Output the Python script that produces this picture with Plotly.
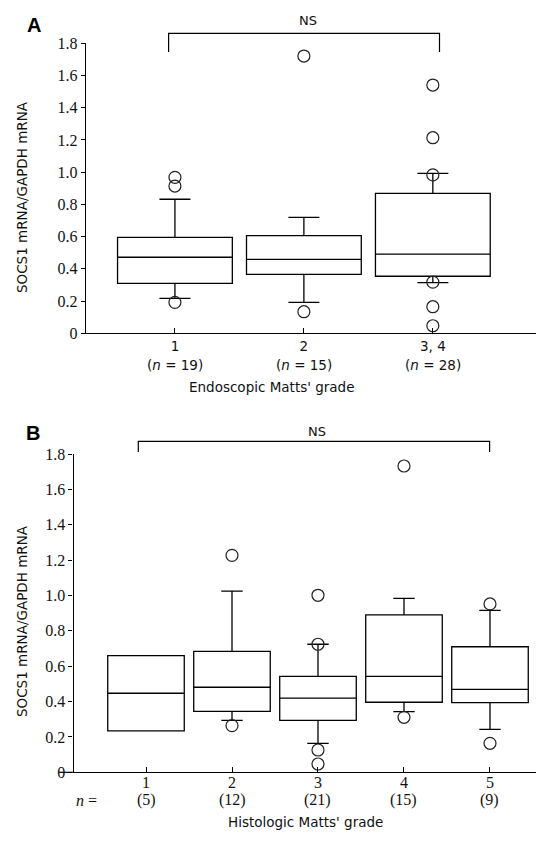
import plotly.graph_objects as go

# ---------------- data ----------------
# Panel A: endoscopic Matts' grade
a_pos = [1, 2, 3]
a_labels = ["1", "2", "3, 4"]
a_n = [19, 15, 28]
a_q1 = [0.31, 0.366, 0.354]
a_median = [0.472, 0.459, 0.492]
a_q3 = [0.596, 0.606, 0.869]
a_low = [0.217, 0.192, 0.314]
a_high = [0.832, 0.72, 0.993]
a_out_x = [1, 1, 1, 2, 2, 3, 3, 3, 3, 3, 3]
a_out_y = [0.192, 0.914, 0.968, 0.134, 1.721, 0.983, 1.214, 1.541, 0.318, 0.165, 0.047]

# Panel B: histologic Matts' grade
b_pos = [1, 2, 3, 4, 5]
b_labels = ["1", "2", "3", "4", "5"]
b_n = [5, 12, 21, 15, 9]
b_q1 = [0.234, 0.345, 0.294, 0.396, 0.394]
b_median = [0.447, 0.481, 0.42, 0.543, 0.469]
b_q3 = [0.66, 0.684, 0.543, 0.89, 0.71]
b_low = [0.234, 0.294, 0.164, 0.343, 0.243]
b_high = [0.66, 1.024, 0.724, 0.984, 0.916]
b_out_x = [2, 2, 3, 3, 3, 3, 4, 4, 5, 5]
b_out_y = [0.264, 1.227, 1.001, 0.724, 0.126, 0.047, 0.311, 1.732, 0.952, 0.164]

y_ticks = [0, 0.2, 0.4, 0.6, 0.8, 1.0, 1.2, 1.4, 1.6, 1.8]
y_ticktext = ["0", "0.2", "0.4", "0.6", "0.8", "1.0", "1.2", "1.4", "1.6", "1.8"]

y_title = "SOCS1 mRNA/GAPDH mRNA"
a_xtitle = "Endoscopic Matts' grade"
b_xtitle = "Histologic Matts' grade"

# ---------------- styling ----------------
W, H = 553, 843
SANS = "DejaVu Sans"
SERIF = "Liberation Serif"
TXT = "#111111"


def px(x):
    return x / W


def py(y):
    return 1 - y / H


fig = go.Figure()

box_line = dict(color="black", width=1.3)
fig.add_trace(go.Box(
    x=a_pos, q1=a_q1, median=a_median, q3=a_q3,
    lowerfence=a_low, upperfence=a_high,
    width=0.89, whiskerwidth=0.27, line=box_line, fillcolor="rgba(0,0,0,0)",
    boxpoints=False, xaxis="x", yaxis="y", showlegend=False, hoverinfo="skip"))
fig.add_trace(go.Scatter(
    x=a_out_x, y=a_out_y, mode="markers", xaxis="x", yaxis="y", cliponaxis=False,
    marker=dict(symbol="circle-open", size=12, color="#222", line=dict(width=1.2)),
    showlegend=False, hoverinfo="skip"))

fig.add_trace(go.Box(
    x=b_pos, q1=b_q1, median=b_median, q3=b_q3,
    lowerfence=b_low, upperfence=b_high,
    width=0.89, whiskerwidth=0.28, line=box_line, fillcolor="rgba(0,0,0,0)",
    boxpoints=False, xaxis="x2", yaxis="y2", showlegend=False, hoverinfo="skip"))
fig.add_trace(go.Scatter(
    x=b_out_x, y=b_out_y, mode="markers", xaxis="x2", yaxis="y2", cliponaxis=False,
    marker=dict(symbol="circle-open", size=12, color="#222", line=dict(width=1.2)),
    showlegend=False, hoverinfo="skip"))

yax_common = dict(
    range=[0, 1.8], tickvals=y_ticks, ticktext=y_ticktext,
    showline=True, linecolor="black", linewidth=1.2,
    ticks="outside", ticklen=4, tickcolor="black", tickwidth=1,
    showgrid=False, zeroline=False, automargin=False,
    tickfont=dict(family=SERIF, size=16, color=TXT),
)
xax_common = dict(
    showline=True, linecolor="black", linewidth=1.2,
    ticks="inside", ticklen=5, tickcolor="black", tickwidth=1,
    showgrid=False, zeroline=False, automargin=False,
)

fig.update_layout(
    width=W, height=H, margin=dict(l=0, r=0, t=0, b=0, autoexpand=False),
    paper_bgcolor="white", plot_bgcolor="white",
    xaxis=dict(domain=[px(85.7), px(536)], range=[0.308, 3.80],
               tickvals=a_pos, ticktext=a_labels,
               tickfont=dict(family=SANS, size=13.5, color=TXT),
               anchor="y", **xax_common),
    yaxis=dict(domain=[py(333.3), py(43.3)], anchor="x", **yax_common),
    xaxis2=dict(domain=[px(73.5), px(536)], range=[0.157, 5.535],
                tickvals=b_pos, ticktext=b_labels, ticklabelstandoff=-5,
                tickfont=dict(family=SERIF, size=16, color=TXT),
                anchor="y2", **xax_common),
    yaxis2=dict(domain=[py(772.3), py(454)], anchor="x2", **yax_common),
)


def note(x, y, text, font, xref="paper", **kw):
    d = dict(x=x, y=y, xref=xref, yref="paper", text=text, showarrow=False,
             xanchor="center", yanchor="middle", font=font)
    d.update(kw)
    return d


sans13 = dict(family=SANS, size=13.5, color=TXT)
serif16 = dict(family=SERIF, size=16, color=TXT)

ann = []
# second tick-label lines (n)
for p, n in zip(a_pos, a_n):
    ann.append(note(p, py(365), f"(<i>n</i> = {n})", sans13, xref="x"))
for p, n in zip(b_pos, b_n):
    ann.append(note(p, py(800), f"({n})", serif16, xref="x2"))
ann.append(note(px(86), py(800), "<i>n</i> =", serif16))
# axis titles
ann.append(note(px(271), py(387), a_xtitle, sans13))
ann.append(note(px(305), py(822), b_xtitle, sans13))
ann.append(note(px(22), py(197), y_title, dict(family=SANS, size=13.5, color=TXT), textangle=-90))
ann.append(note(px(22), py(621), y_title, dict(family=SANS, size=13.5, color=TXT), textangle=-90))
# panel letters
ann.append(note(px(34), py(25), "<b>A</b>", dict(family="Liberation Sans", size=20, color="black")))
ann.append(note(px(33), py(433), "<b>B</b>", dict(family="Liberation Sans", size=20, color="black")))
# NS labels
ann.append(note(px(308), py(20), "NS", dict(family=SANS, size=13, color=TXT)))
ann.append(note(px(317), py(431), "NS", dict(family=SANS, size=13, color=TXT)))

shapes = [
    dict(type="path", xref="paper", yref="paper",
         path=f"M {px(168.6)} {py(52)} L {px(168.6)} {py(33.3)} L {px(439.5)} {py(33.3)} L {px(439.5)} {py(52)}",
         line=dict(color="black", width=1.2)),
    dict(type="path", xref="paper", yref="paper",
         path=f"M {px(138.3)} {py(452)} L {px(138.3)} {py(441.3)} L {px(489.6)} {py(441.3)} L {px(489.6)} {py(452)}",
         line=dict(color="black", width=1.2)),
    dict(type="line", xref="paper", yref="paper",
         x0=px(59), x1=px(73.5), y0=py(772.3), y1=py(772.3),
         line=dict(color="black", width=1.2)),
]

fig.update_layout(annotations=ann, shapes=shapes)

fig.write_html(
    "out.html",
    config={"displayModeBar": False},
    post_script="document.body.style.margin='0px';document.body.style.overflow='hidden';",
)
